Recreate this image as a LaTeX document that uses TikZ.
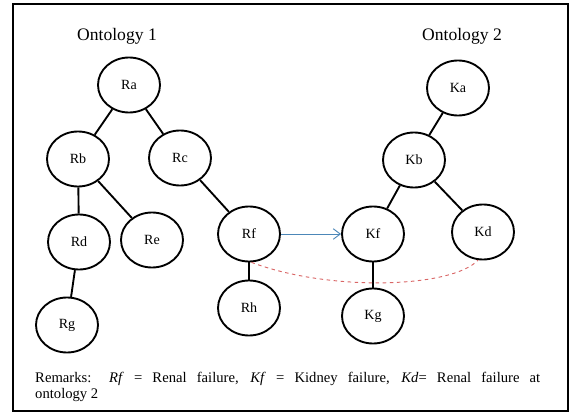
\documentclass[tikz,border=0pt]{standalone}
\usepackage{fontspec}
\setmainfont{Liberation Serif}
\usetikzlibrary{shapes.geometric,arrows.meta}

\tikzset{
  concept/.style={draw,ellipse,line width=1.6pt,minimum width=1.86cm,minimum height=1.65cm,inner sep=0pt,font=\fontsize{12}{14}\selectfont},
  tie/.style={line width=1.6pt},
}

\begin{document}
\begin{tikzpicture}[x=0.03cm,y=-0.03cm]
\path[use as bounding box] (0,0) rectangle (577,418);
\draw[line width=1.2pt] (13,4) rectangle (568,411);
\node[font=\fontsize{15}{18}\selectfont] (title1) at (117,36) {Ontology 1};
\node[font=\fontsize{15}{18}\selectfont] (title2) at (462,36) {Ontology 2};
% ontology 1
\node[concept] (Ra) at (129,85) {Ra};
\node[concept] (Rb) at (78,159) {Rb};
\node[concept] (Rc) at (180,158) {Rc};
\node[concept] (Rd) at (79,242) {Rd};
\node[concept] (Re) at (152,240) {Re};
\node[concept] (Rf) at (249,234) {Rf};
\node[concept] (Rg) at (67,325) {Rg};
\node[concept] (Rh) at (249,308) {Rh};
% ontology 2
\node[concept] (Ka) at (458,88) {Ka};
\node[concept] (Kb) at (414,160) {Kb};
\node[concept] (Kf) at (373,234) {Kf};
\node[concept] (Kd) at (483,232) {Kd};
\node[concept] (Kg) at (373,316) {Kg};
\draw[tie] (Ra) -- (Rb);
\draw[tie] (Ra) -- (Rc);
\draw[tie] (Rb) -- (Rd);
\draw[tie] (Rb) -- (Re);
\draw[tie] (Rc) -- (Rf);
\draw[tie] (Rd) -- (Rg);
\draw[tie] (Rf) -- (Rh);
\draw[tie] (Ka) -- (Kb);
\draw[tie] (Kb) -- (Kf);
\draw[tie] (Kb) -- (Kd);
\draw[tie] (Kf) -- (Kg);
% mappings
\draw[-{Straight Barb[length=6pt,width=9pt]},color=blue!45!cyan!60!black!70,line width=0.8pt] (Rf) -- (Kf);
\draw[dashed,color=red!75!black!60,line width=0.8pt] (Rf.-85) .. controls (330,292) and (452,288) .. (Kd.-100);
\node[anchor=north west,text width=15.15cm,align=justify,inner sep=0pt,font=\fontsize{12.5}{14}\selectfont] (remarks) at (35,372)
  {Remarks: \textit{Rf} = Renal failure, \textit{Kf} = Kidney failure, \textit{Kd}= Renal failure at\linebreak ontology 2};
\end{tikzpicture}
\end{document}
